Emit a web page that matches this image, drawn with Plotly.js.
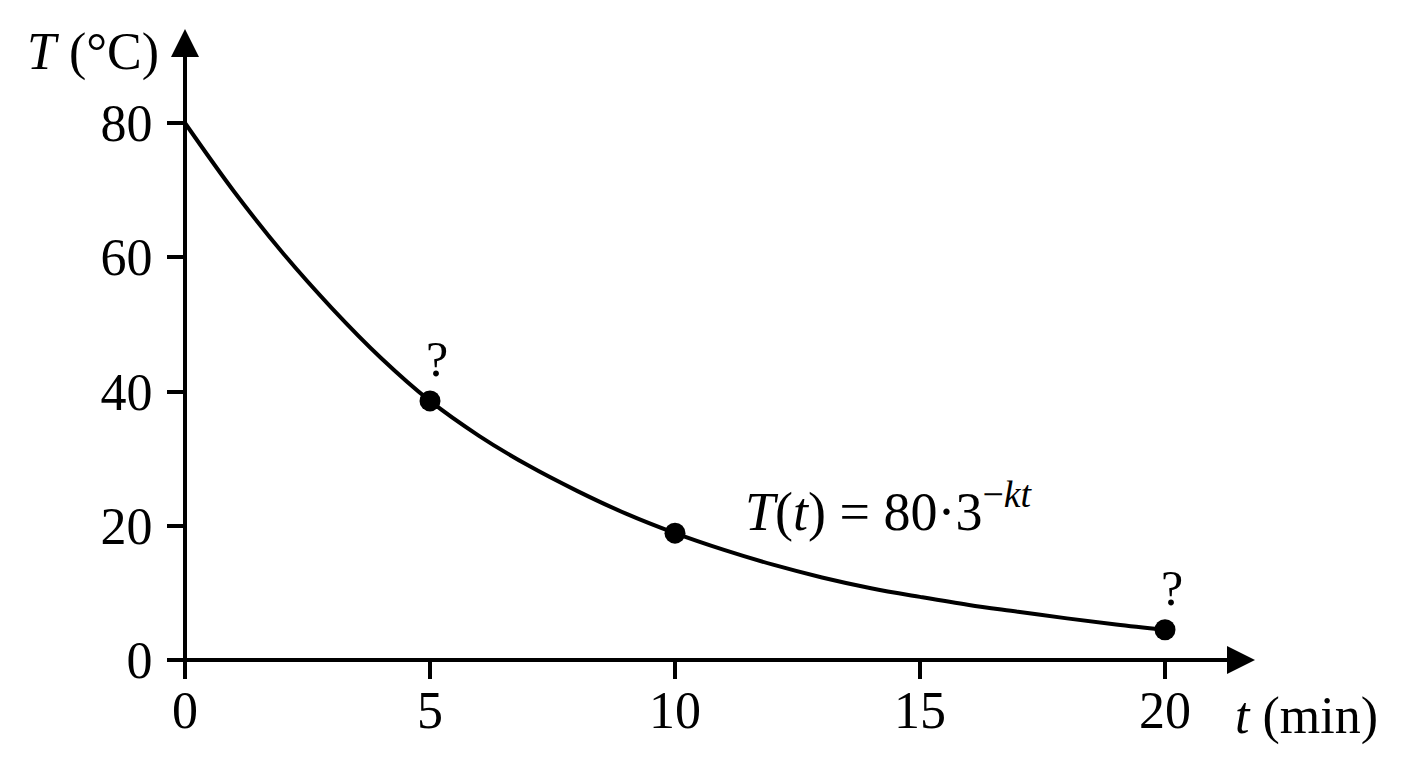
<!DOCTYPE html>
<html>
<head>
<meta charset="utf-8">
<script src="https://cdn.plot.ly/plotly-3.0.1.min.js"></script>
<style>
  html, body { margin: 0; padding: 0; background: #ffffff; }
  #chart { width: 1408px; height: 768px; }
</style>
</head>
<body>
<div id="chart"></div>
<script>
// ---- data ----
const curveT = [0, 1, 2, 3, 4, 5, 6, 7, 8, 9, 10, 11, 12, 13, 14, 15, 16, 17, 18, 19, 20];
const curveTemp = [80, 69.8, 60.6, 52.4, 45.0, 38.6, 33.4, 29.0, 25.2, 21.8, 18.9, 16.4, 14.2, 12.3, 10.7, 9.4, 8.2, 7.2, 6.2, 5.3, 4.5];
const pointT = [5, 10, 20];
const pointTemp = [38.6, 18.9, 4.5];
const pointLabels = ["?", "", "?"];
const xTicks = [0, 5, 10, 15, 20];
const yTicks = [0, 20, 40, 60, 80];
const xTitle = "<i>t</i> (min)";
const yTitle = "<i>T</i> (°C)";
const formula = "<i>T</i>(<i>t</i>) = 80·3<sup>−<i>kt</i></sup>";

// ---- layout geometry (pixels) ----
const W = 1408, H = 768;
const mL = 136, mR = 47, mT = 22, mB = 86;
const plotW = W - mL - mR, plotH = H - mT - mB;
const x0px = 185, xPer = 49;          // t = 0 at 185 px, 49 px per minute
const y0px = 660, yPer = 6.7125;      // T = 0 at 660 px, px per degree
const xr = [(mL - x0px) / xPer, (mL + plotW - x0px) / xPer];
const yr = [(y0px - (mT + plotH)) / yPer, (y0px - mT) / yPer];
const px2x = p => (p - x0px) / xPer;
const px2y = p => (y0px - p) / yPer;
const px2px = p => (p - mL) / plotW;            // paper x
const px2py = p => (mT + plotH - p) / plotH;    // paper y

const FONT = "Liberation Serif, Times New Roman, serif";
const LW = 4;

const traces = [
  {
    x: curveT, y: curveTemp, type: "scatter", mode: "lines",
    line: { color: "#000", width: LW, shape: "spline", smoothing: 1 },
    hoverinfo: "skip", showlegend: false
  },
  {
    x: pointT, y: pointTemp, type: "scatter", mode: "markers",
    marker: { color: "#000", size: 21 },
    hoverinfo: "skip", showlegend: false
  }
];

const annotations = [
  // y axis with arrow
  { x: 0, y: px2y(29), ax: 0, ay: px2y(679), xref: "x", yref: "y", axref: "x", ayref: "y",
    text: "", showarrow: true, arrowhead: 2, arrowsize: 1.4, arrowwidth: LW, arrowcolor: "#000",
    standoff: 0, startstandoff: 0 },
  // x axis with arrow
  { x: px2x(1255), y: 0, ax: px2x(167), ay: 0, xref: "x", yref: "y", axref: "x", ayref: "y",
    text: "", showarrow: true, arrowhead: 2, arrowsize: 1.4, arrowwidth: LW, arrowcolor: "#000",
    standoff: 0, startstandoff: 0 },
  // axis titles
  { x: px2px(161), y: px2py(52), xref: "paper", yref: "paper", xanchor: "right", yanchor: "middle",
    text: yTitle, showarrow: false, font: { family: FONT, size: 52, color: "#000" } },
  { x: px2px(1233), y: px2py(716), xref: "paper", yref: "paper", xanchor: "left", yanchor: "middle",
    text: xTitle, showarrow: false, font: { family: FONT, size: 52, color: "#000" } },
  // formula
  { x: px2px(743), y: px2py(507), xref: "paper", yref: "paper", xanchor: "left", yanchor: "middle",
    text: formula, showarrow: false, font: { family: FONT, size: 54, color: "#000" } }
];

pointT.forEach((t, i) => {
  if (pointLabels[i]) {
    annotations.push({
      x: t, y: pointTemp[i], xref: "x", yref: "y", xanchor: "center", yanchor: "middle",
      xshift: 7, yshift: 42, text: pointLabels[i], showarrow: false,
      font: { family: FONT, size: 50, color: "#000" }
    });
  }
});

const layout = {
  width: W, height: H,
  margin: { l: mL, r: mR, t: mT, b: mB, pad: 0 },
  paper_bgcolor: "#fff", plot_bgcolor: "#fff",
  showlegend: false,
  font: { family: FONT, size: 52, color: "#000" },
  xaxis: {
    range: xr, anchor: "free", position: (0 - yr[0]) / (yr[1] - yr[0]),
    showline: false, showgrid: false, zeroline: false,
    tickmode: "array", tickvals: xTicks, ticktext: xTicks.map(String),
    ticks: "outside", ticklen: 18, tickwidth: LW, tickcolor: "#000",
    ticklabelstandoff: -13,
    tickfont: { family: FONT, size: 52, color: "#000" }, fixedrange: true
  },
  yaxis: {
    range: yr, anchor: "free", position: (0 - xr[0]) / (xr[1] - xr[0]),
    showline: false, showgrid: false, zeroline: false,
    tickmode: "array", tickvals: yTicks, ticktext: yTicks.map(String),
    ticks: "outside", ticklen: 18, tickwidth: LW, tickcolor: "#000",
    ticklabelstandoff: 4,
    tickfont: { family: FONT, size: 52, color: "#000" }, fixedrange: true
  },
  annotations: annotations
};

Plotly.newPlot("chart", traces, layout, { displayModeBar: false, staticPlot: true });
</script>
</body>
</html>
